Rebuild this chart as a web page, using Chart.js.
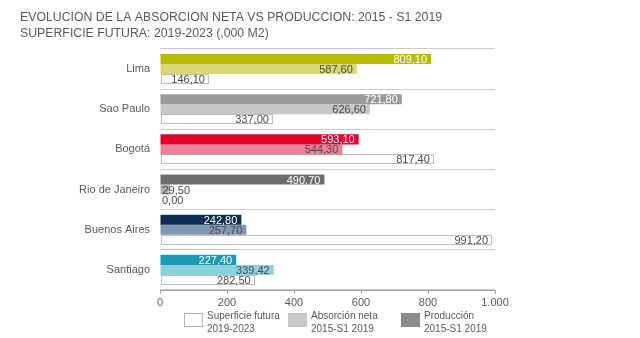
<!DOCTYPE html>
<html>
<head>
<meta charset="utf-8">
<script src="https://cdn.jsdelivr.net/npm/chart.js@4/dist/chart.umd.min.js"></script>
<style>
html,body{margin:0;padding:0;background:#fff;}
canvas{display:block;}
</style>
</head>
<body>
<canvas id="c" width="640" height="338"></canvas>
<script>
const titleLines = ['EVOLUCION DE LA ABSORCION NETA VS PRODUCCION: 2015 - S1 2019', 'SUPERFICIE FUTURA: 2019-2023 (,000 M2)'];
const categories = ['Lima', 'Sao Paulo', 'Bogotá', 'Rio de Janeiro', 'Buenos Aires', 'Santiago'];
const produccion = [809.10, 721.80, 593.10, 490.70, 242.80, 227.40];
const absorcion = [587.60, 626.60, 544.30, 29.50, 257.70, 339.42];
const superficie = [146.10, 337.00, 817.40, 0.00, 991.20, 282.50];
const xTicks = [0, 200, 400, 600, 800, 1000];
const legendLabels = [['Superficie futura', '2019-2023'], ['Absorción neta', '2015-S1 2019'], ['Producción', '2015-S1 2019']];

const prodColors = ['#b8bc00', '#9a9a9a', '#e2002a', '#6e6e6e', '#0d2d52', '#1b9ab3'];
const absColors = ['#d7da73', '#c7c7c7', '#ef7f95', '#b0b0b0', '#8199b0', '#8dd0df'];
const FONT = '"Liberation Sans", Arial, sans-serif';
const TXT = '#595959';

function fmt(v) {
  return v.toFixed(2).replace('.', ',');
}

const overlay = {
  id: 'overlay',
  afterDatasetsDraw(chart) {
    const ctx = chart.ctx;
    ctx.save();
    // dotted boxes for superficie
    const supMeta = chart.getDatasetMeta(2);
    supMeta.data.forEach((el, i) => {
      if (superficie[i] <= 0) return;
      const top = Math.round(el.y - el.height / 2) + 0.5;
      const left = Math.round(el.base) + 0.5;
      const right = Math.round(el.x) - 0.5;
      const h = Math.round(el.height) - 1;
      ctx.strokeStyle = '#7a7a7a';
      ctx.lineWidth = 1;
      ctx.setLineDash([1, 1]);
      ctx.strokeRect(left, top, right - left, h);
    });
    ctx.setLineDash([]);
    // labels
    ctx.font = '11px ' + FONT;
    ctx.textBaseline = 'middle';
    const series = [produccion, absorcion, superficie];
    for (let d = 0; d < 3; d++) {
      const meta = chart.getDatasetMeta(d);
      meta.data.forEach((el, i) => {
        const txt = fmt(series[d][i]);
        const w = ctx.measureText(txt).width;
        const barW = el.x - el.base;
        ctx.fillStyle = d === 0 ? '#ffffff' : '#4a4a4a';
        if (barW < w + 6) {
          ctx.fillStyle = '#4a4a4a';
          ctx.textAlign = 'left';
          ctx.fillText(txt, el.base + 2, el.y + 1);
        } else {
          ctx.textAlign = 'right';
          ctx.fillText(txt, el.x - 4, el.y + 1);
        }
      });
    }
    ctx.restore();
  },
  afterDraw(chart) {
    const ctx = chart.ctx;
    ctx.save();
    // title
    ctx.fillStyle = TXT;
    ctx.font = '12.3px ' + FONT;
    ctx.textAlign = 'left';
    ctx.textBaseline = 'middle';
    ctx.fillText(titleLines[0], 20, 18);
    ctx.fillText(titleLines[1], 20, 34);
    // legend
    const items = [
      {x: 184, type: 'dot'},
      {x: 288, type: 'fill', color: '#c8c8c8'},
      {x: 401, type: 'fill', color: '#8c8c8c'}
    ];
    ctx.font = '10px ' + FONT;
    items.forEach((it, k) => {
      if (it.type === 'dot') {
        ctx.strokeStyle = '#6a6a6a';
        ctx.lineWidth = 1;
        ctx.setLineDash([1, 1]);
        ctx.strokeRect(it.x + 0.5, 313.5, 18, 13);
        ctx.setLineDash([]);
      } else {
        ctx.fillStyle = it.color;
        ctx.fillRect(it.x, 313, 19, 14);
      }
      ctx.fillStyle = TXT;
      ctx.textAlign = 'left';
      ctx.fillText(legendLabels[k][0], it.x + 23, 316);
      ctx.fillText(legendLabels[k][1], it.x + 23, 329);
    });
    ctx.restore();
  }
};

new Chart(document.getElementById('c'), {
  type: 'bar',
  data: {
    labels: categories,
    datasets: [
      {label: 'Producción 2015-S1 2019', data: produccion, backgroundColor: prodColors},
      {label: 'Absorción neta 2015-S1 2019', data: absorcion, backgroundColor: absColors},
      {label: 'Superficie futura 2019-2023', data: superficie, backgroundColor: 'rgba(0,0,0,0)', borderWidth: 0}
    ]
  },
  options: {
    indexAxis: 'y',
    responsive: false,
    animation: false,
    devicePixelRatio: 1,
    layout: {padding: {left: 20, right: 145, top: 49, bottom: 28}},
    datasets: {bar: {categoryPercentage: 0.75, barPercentage: 1}},
    plugins: {legend: {display: false}, title: {display: false}, tooltip: {enabled: false}},
    scales: {
      x: {
        min: 0, max: 1000,
        afterFit(s) { s.height = 20; },
        afterBuildTicks(s) { s.ticks = xTicks.map(v => ({value: v})); },
        ticks: {
          color: TXT,
          font: {family: FONT, size: 11},
          padding: 2,
          callback(v) { return v >= 1000 ? (v / 1000) + '.' + String(v % 1000).padStart(3, '0') : String(v); }
        },
        grid: {display: true, drawOnChartArea: false, drawTicks: true, tickLength: 4, color: '#a6a6a6'},
        border: {display: true, color: '#a6a6a6'}
      },
      y: {
        afterFit(s) { s.width = 140; },
        ticks: {color: TXT, font: {family: FONT, size: 11}, padding: 10},
        grid: {display: true, offset: true, drawTicks: false, color: '#cccccc'},
        border: {display: false}
      }
    }
  },
  plugins: [overlay]
});
</script>
</body>
</html>
